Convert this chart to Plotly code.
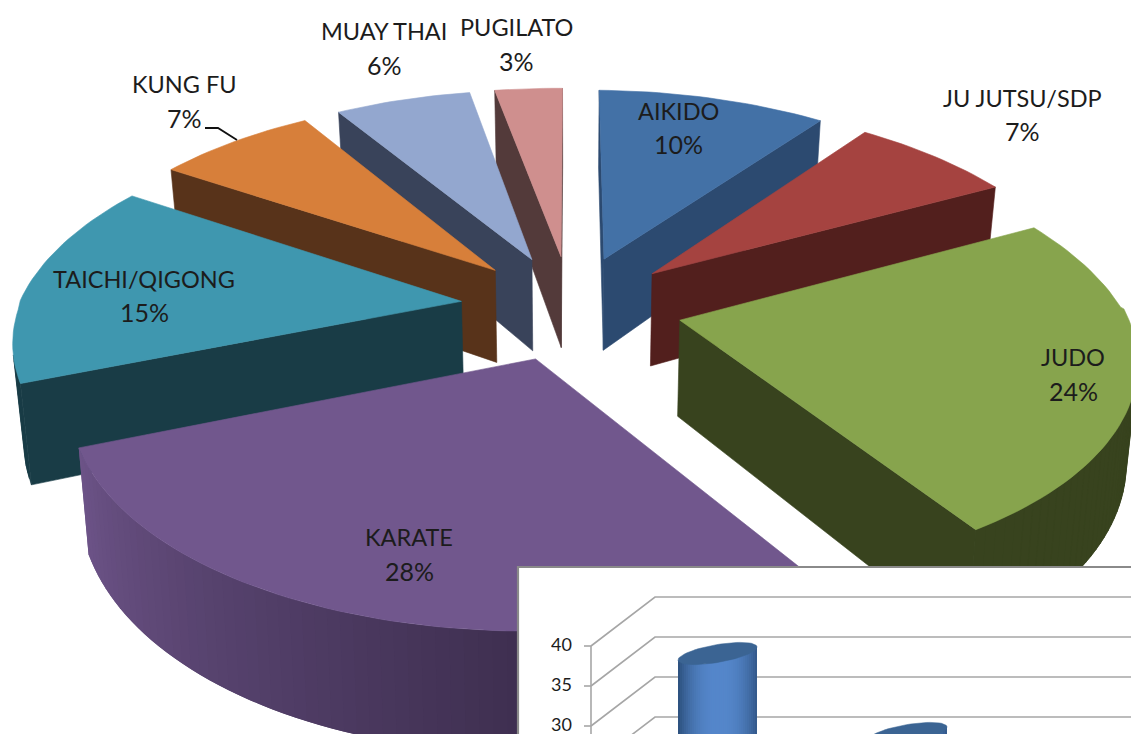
import numpy as np
import plotly.graph_objects as go

# ---- data ----
categories = ["AIKIDO", "JU JUTSU/SDP", "JUDO", "KARATE", "TAICHI/QIGONG", "KUNG FU", "MUAY THAI", "PUGILATO"]
shares = [10, 7, 24, 28, 15, 7, 6, 3]
inset_ticks = [40, 35, 30]
inset_values = [36, 26]

# ---- styles ----
TOP = ["#4371A6", "#A54340", "#87A44D", "#71578D", "#3F97AF", "#D77F3A", "#93A7CF", "#CF8F8E"]
WALL = ["#2C4A70", "#521F1D", "#38431E", "#3E2F50", "#193C46", "#58331A", "#39435A", "#533A3A"]
DRAW_ORDER = [0, 7, 1, 6, 5, 2, 4, 3]
LABEL_POS = [(678, 111, 144), (1022, 98, 131), (1073, 357, 391), (409, 537, 571),
             (144, 279, 312), (184, 84, 118), (384, 31, 65), (516, 27, 61)]
CX, CY, S, ST, K, KY, EXPL, DEPTH, SHRINK = 571, 307, 442, 210, 0.18, 0.16, 0.25, 95, 0.98
ROLL, FRONT_PINCH, RIGHT_GAIN = 3, 12, 3
FONT = "Lato"
INK = "#1c1c1c"


def hex2rgb(h):
    return np.array([int(h[i:i + 2], 16) for i in (1, 3, 5)], float)


def mix(a, b, t):
    c = hex2rgb(a) + (hex2rgb(b) - hex2rgb(a)) * t
    return "rgb(%d,%d,%d)" % tuple(c)


def proj(X, Y, low=False):
    w = 1 + K * Y
    x = (S * X) / w + FRONT_PINCH * X * min(Y, 0) + RIGHT_GAIN * max(X, 0)
    y = -ST * Y / (1 + KY * Y) + ROLL * X * (Y > 0)
    if low:
        return (CX + x * SHRINK, CY + y + DEPTH / w)
    return (CX + x, CY + y)


fig = go.Figure()


def poly(points, color, width=0.6):
    xs = [p[0] for p in points]
    ys = [p[1] for p in points]
    fig.add_trace(go.Scatter(x=xs + xs[:1], y=ys + ys[:1], mode="lines", fill="toself",
                             fillcolor=color, line=dict(color=color, width=width),
                             hoverinfo="skip", showlegend=False))


def area(pts):
    s = 0
    for i in range(len(pts)):
        a, b = pts[i], pts[(i + 1) % len(pts)]
        s += a[0] * b[1] - b[0] * a[1]
    return s


# ---- exploded pie, everything derived from the shares ----
total = sum(shares)
edges = np.concatenate([[0], np.cumsum(shares)]) / total * 2 * np.pi

for i in DRAW_ORDER:
    a0, a1 = edges[i], edges[i + 1]
    mid = (a0 + a1) / 2
    ox, oy = EXPL * np.sin(mid), EXPL * np.cos(mid)
    n = max(3, int((a1 - a0) / np.radians(1.5)))
    th = np.linspace(a0, a1, n + 1)
    plan = [(ox + np.sin(t), oy + np.cos(t)) for t in th]
    top = [proj(*p) for p in plan]
    low = [proj(*p, low=True) for p in plan]
    A, Al = proj(ox, oy), proj(ox, oy, low=True)
    # start and end cut faces
    for f in ([A, top[0], low[0], Al], [top[-1], A, Al, low[-1]]):
        if area(f) < 0:
            poly(f, WALL[i])
    # outer rim, shaded along the arc (drawn overlapping so no seams show)
    for j in range(n):
        f = [top[j], top[min(j + 2, n)], low[min(j + 2, n)], low[j]]
        if area(f) < 0 and i == 3:
            deg = np.degrees((th[j] + th[j + 1]) / 2)
            t = np.clip((deg - 180) / 68, 0, 1) * 0.92
            poly(f, mix(WALL[i], TOP[i], t), 0)
        elif area(f) < 0:
            poly(f, WALL[i], 0.6)
    poly([A] + top, TOP[i])

# ---- leader line for KUNG FU ----
fig.add_trace(go.Scatter(x=[205, 218, 237], y=[128, 128, 140], mode="lines",
                         line=dict(color="#111111", width=1.8), hoverinfo="skip", showlegend=False))

# ---- inset column chart ----
IX0, IY0 = 518, 567
ISTEP = 8.0  # pixels per unit
FRONT40 = 646
DX, DY = 64, -49
GRID = "#a6a6a6"


def iy(v):
    return FRONT40 + (40 - v) * ISTEP


poly([(IX0, IY0), (1140, IY0), (1140, 740), (IX0, 740)], "#ffffff", 0)
fig.add_trace(go.Scatter(x=[IX0, IX0, 1140], y=[740, IY0, IY0], mode="lines",
                         line=dict(color="#8a8a8a", width=2.2), hoverinfo="skip", showlegend=False))
for v in list(range(40, 0, -5)):
    fig.add_trace(go.Scatter(x=[591, 591 + DX, 1140], y=[iy(v), iy(v) + DY, iy(v) + DY], mode="lines",
                             line=dict(color=GRID, width=1.6), hoverinfo="skip", showlegend=False))
fig.add_trace(go.Scatter(x=[591, 591], y=[iy(40), 740], mode="lines",
                         line=dict(color=GRID, width=1.6), hoverinfo="skip", showlegend=False))
for v in inset_ticks:
    fig.add_trace(go.Scatter(x=[584, 591], y=[iy(v), iy(v)], mode="lines",
                             line=dict(color=GRID, width=1.6), hoverinfo="skip", showlegend=False))

CYL_X = [678, 868]
CYL_W = 79
for v, x0 in zip(inset_values, CYL_X):
    yc = iy(v) + DY / 2
    bands = 40
    tilt = lambda x: yc + 6.5 - 13 * (x - x0) / CYL_W + 9 * np.sqrt(max(0, 1 - (2 * (x - x0) / CYL_W - 1) ** 2))
    for b in range(bands):
        u = b / bands
        xa = x0 + CYL_W * u
        ph = abs(u + 0.5 / bands - 0.52) / 0.52
        col = mix("#5587CB", "#2C4F7C", min(1, ph ** 2.4))
        xs = np.linspace(xa, x0 + CYL_W, 12)
        poly([(x, tilt(x)) for x in xs] + [(x0 + CYL_W, 745), (xa, 745)], col, 0)
    ph = np.linspace(0, 2 * np.pi, 60)
    ex = x0 + CYL_W / 2 + CYL_W / 2 * np.cos(ph)
    ey = yc - 6.5 * np.cos(ph) + 9 * np.sin(ph)
    poly(list(zip(ex, ey)), "#3B6493", 0.5)

# ---- text ----
annotations = []


def label(x, y, text, size=24, **kw):
    annotations.append(dict(x=x, y=y, xref="x", yref="y", text=text, showarrow=False,
                            xanchor="center", yanchor="middle",
                            font=dict(family=FONT, size=size, color=INK), **kw))


for name, val, (lx, ly1, ly2) in zip(categories, shares, LABEL_POS):
    label(lx, ly1, name, 23.5)
    label(lx, ly2, f"{val}%", 25)
for v in inset_ticks:
    label(561, iy(v) - 2, str(v), 18, height=18, borderpad=0)

fig.update_layout(
    width=1131, height=734, margin=dict(l=0, r=0, t=0, b=0),
    paper_bgcolor="white", plot_bgcolor="white", showlegend=False,
    xaxis=dict(range=[0, 1131], visible=False, fixedrange=True),
    yaxis=dict(range=[734, 0], visible=False, fixedrange=True),
    annotations=annotations,
)
fig.write_html("out.html", config={"displayModeBar": False},
               post_script="document.body.style.margin='0';document.body.style.overflow='hidden';")
